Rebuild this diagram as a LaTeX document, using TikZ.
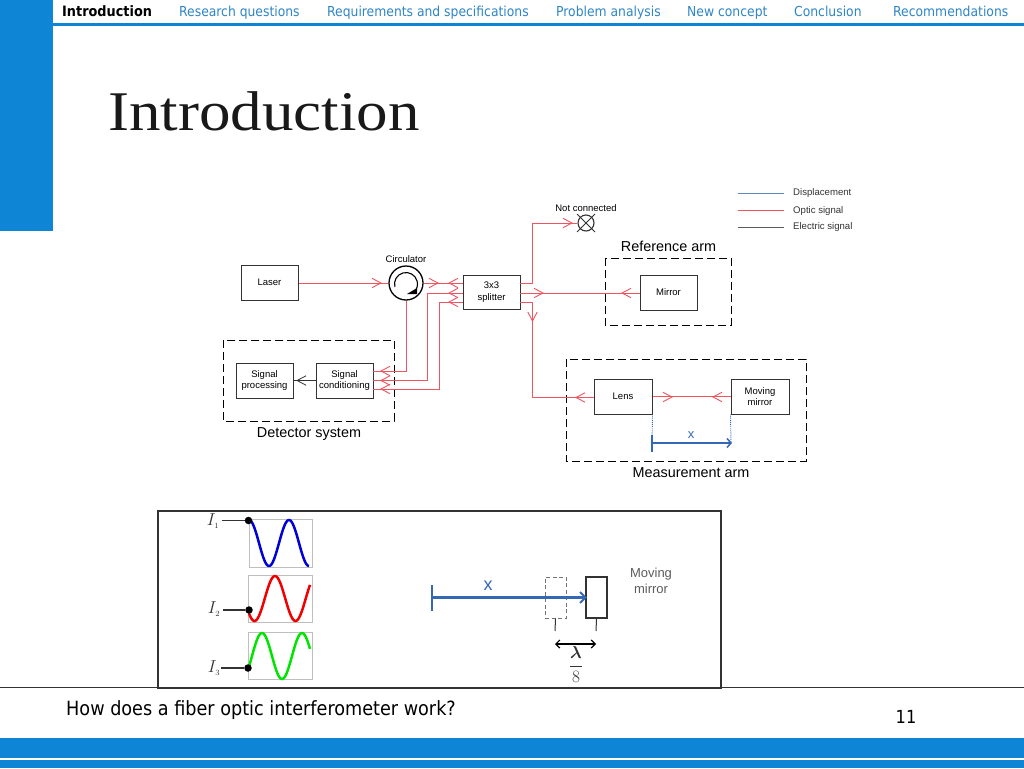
\documentclass[tikz,border=0pt]{standalone}
\usepackage{fontspec}
\usepackage{amsmath}
\setmainfont{Liberation Sans}
\newfontfamily\navfont{DejaVu Sans Condensed}
\newfontfamily\titlefont[FakeStretch=1.125]{Liberation Serif}
\usetikzlibrary{arrows.meta,calc}
\definecolor{band}{HTML}{0F85D6}
\definecolor{navtxt}{HTML}{2F86C6}
\definecolor{optic}{HTML}{EE5560}
\definecolor{dark}{HTML}{333333}
\definecolor{disp}{HTML}{3468B4}
\tikzset{
  nav/.style={anchor=base west,inner sep=0pt,font=\navfont\fontsize{13.75}{16}\selectfont,text=navtxt},
  blockbox/.style={draw=dark,line width=1pt,fill=white,inner sep=0pt,align=center,font=\fontsize{9.5}{11.5}\selectfont},
  optline/.style={draw=optic,line width=1pt},
  barbopt/.style={draw=optic,line width=.9pt},
  groupbox/.style={draw=black,line width=1pt,dash pattern=on 8pt off 4pt},
  captxt/.style={inner sep=0pt,font=\fontsize{14.4}{16}\selectfont},
  small/.style={inner sep=0pt,font=\fontsize{9.5}{11}\selectfont},
  legendtxt/.style={anchor=west,inner sep=0pt,font=\fontsize{9.6}{11}\selectfont,text=dark},
  dispmain/.style={draw=disp,line width=2.2pt},
  frameg/.style={draw=black!25,line width=.8pt},
  wave/.style={line width=2.5pt},
  tickline/.style={draw=dark,line width=1.3pt},
  stub/.style={draw=dark,line width=1pt},
  dotn/.style={circle,fill=black,inner sep=0pt,minimum size=7.5pt},
  ilab/.style={inner sep=0pt,font=\fontsize{17}{18}\selectfont,text=dark},
}
\newcommand{\barb}[4][barbopt]{\draw[#1,shift={(#2,#3)},rotate=#4] (-9,-4.7)--(0,0)--(-9,4.7);}
\begin{document}
\begin{tikzpicture}[x=1pt,y=-1pt]
\useasboundingbox (0,0) rectangle (1024,768);
\fill[white] (0,0) rectangle (1024,768);
% chrome
\fill[band] (0,0) rectangle (52.5,230.5);
\fill[band] (52.5,23) rectangle (1024,26);
\fill[band] (0,737.5) rectangle (1024,758);
\fill[band] (0,760) rectangle (1024,768);
\node[nav,text=black,font=\navfont\bfseries\fontsize{14.3}{16}\selectfont] (n1) at (62,16.5) {Introduction};
\node[nav] (n2) at (179,16.5) {Research questions};
\node[nav] (n3) at (327,16.5) {Requirements and specifications};
\node[nav] (n4) at (556,16.5) {Problem analysis};
\node[nav] (n5) at (687,16.5) {New concept};
\node[nav] (n6) at (794,16.5) {Conclusion};
\node[nav] (n7) at (893,16.5) {Recommendations};
\node[anchor=base west,inner sep=0pt,text=black!90,font=\titlefont\fontsize{56}{60}\selectfont] (title) at (108,130) {Introduction};
% footer
\draw[dark,line width=1.4pt] (0,687.5) -- (158,687.5) (721,687.5) -- (1024,687.5);
\node[anchor=base west,inner sep=0pt,font=\navfont\fontsize{19.6}{22}\selectfont] (foot) at (66,715.5) {How does a fiber optic interferometer work?};
\node[anchor=base,inner sep=0pt,font=\navfont\fontsize{18}{20}\selectfont] (page) at (906,723) {11};
% groups
\draw[groupbox] (605,258) rectangle (731,325);
\draw[groupbox] (566,359) rectangle (806,461);
\draw[groupbox] (223,340) rectangle (394,421);
\node[captxt] (refcap) at (668.5,246) {Reference arm};
\node[captxt] (meacap) at (691,472.5) {Measurement arm};
\node[captxt] (detcap) at (309,434.5) {Detector system};
% ports
\coordinate (spA) at (463,283);
\coordinate (spB) at (463,293);
\coordinate (spC) at (463,302);
\coordinate (scA) at (373,371);
\coordinate (scB) at (373,380.5);
\coordinate (scC) at (373,389);
\coordinate (soA) at (520,283);
\coordinate (soB) at (520,293);
\coordinate (soC) at (520,302);
\coordinate (lensL) at (594,397.5);
% devices
\node[small] (nc) at (586,208) {Not connected};
\node[circle,draw=dark,line width=1.1pt,minimum size=16pt,inner sep=0pt] (xx) at (586,223) {};
\draw[dark,line width=.9pt] (577,214)--(595,232) (577,232)--(595,214);
\node[small] (circlab) at (406,259.5) {Circulator};
\node[circle,draw=black,line width=1.3pt,minimum size=34pt,inner sep=0pt,fill=white] (circ) at (406,283) {};
\draw[black,line width=1.1pt] (394.9,287) arc (165:405:11.5);
\fill[black] (417,288) -- (417,294) -- (407,294) -- cycle;
\node[blockbox,minimum width=57pt,minimum height=35pt] (laser) at (269.5,282.5) {Laser};
\node[blockbox,minimum width=57pt,minimum height=34pt] (split) at (491.5,292) {3x3\\splitter};
\node[blockbox,minimum width=57pt,minimum height=35pt] (mirror) at (668.5,292.5) {Mirror};
\node[blockbox,minimum width=57pt,minimum height=35pt] (cond) at (344.5,380.5) {Signal\\conditioning};
\node[blockbox,minimum width=57pt,minimum height=35pt] (proc) at (264.5,380.5) {Signal\\processing};
\node[blockbox,minimum width=58pt,minimum height=35pt] (lens) at (623,396.5) {Lens};
\node[blockbox,minimum width=58pt,minimum height=35pt] (mm) at (760,396.5) {Moving\\mirror};
% optical
\draw[optline] (laser.east |- circ) -- (circ.west);
\draw[optline] (circ.east) -- (spA);
\draw[optline] (spB) -| (427,380.5) -- (scB);
\draw[optline] (spC) -| (439,389) -- (scC);
\draw[optline] (circ.south) |- (scA);
\draw[optline] (soA) -| (532.5,223) -- (xx.west);
\draw[optline] (soB) -- (mirror.west |- soB);
\draw[optline] (soC) -| (532.5,397.5) -- (lensL);
\draw[optline] (lens.east |- mm) -- (mm.west);
\barb{381}{283}{0}
\barb{438}{283}{0}
\barb{449}{283}{180}
\barb{449}{293}{180}
\barb{449}{302}{180}
\barb{381}{371}{180}
\barb{381}{380.5}{180}
\barb{381}{389}{180}
\barb{572}{223}{0}
\barb{543}{293}{0}
\barb{622}{293}{180}
\barb{532.5}{321}{-90}
\barb{576}{397.5}{180}
\barb{672}{397}{0}
\barb{713}{397}{180}
% electric
\draw[dark,line width=.9pt] (cond.west) -- (proc.east);
\barb[{draw=dark,line width=.8pt}]{297}{380.5}{180}
% displacement
\coordinate (lensd) at (652,443);
\coordinate (mmd) at (731,443);
\draw[disp,line width=.9pt,densely dotted] (lens.south east) -- (lensd);
\draw[disp,line width=.9pt,densely dotted] (mm.south west) -- (mmd);
\draw[dispmain] (lensd) -- (mmd);
\draw[dispmain] (652,435) -- (652,452);
\draw[disp,line width=1.5pt] (727,438.5) -- (731,443) -- (727,447.5);
\node[inner sep=0pt,font=\fontsize{13}{14}\selectfont,text=disp] (xlab) at (691,435.5) {x};
% legend
\coordinate (l1a) at (738,193); \coordinate (l1b) at (784,193);
\coordinate (l2a) at (738,210); \coordinate (l2b) at (784,210);
\coordinate (l3a) at (738,227); \coordinate (l3b) at (784,227);
\draw[disp!80,line width=.9pt] (l1a) -- (l1b);
\draw[optic,line width=.9pt] (l2a) -- (l2b);
\draw[dark!80,line width=.9pt] (l3a) -- (l3b);
\node[legendtxt] (lt1) at (793,193.5) {Displacement};
\node[legendtxt] (lt2) at (793,211) {Optic signal};
\node[legendtxt] (lt3) at (793,227.5) {Electric signal};
% lower panel
\draw[dark,line width=1.6pt] (158,511) rectangle (721,688);
\draw[frameg] (249,519.5) rectangle (312,567);
\draw[frameg] (248.5,575) rectangle (312,622);
\draw[frameg] (248,632) rectangle (312,679);
\draw[wave,color=blue!85!black] plot[domain=249:309,samples=80,smooth] (\x,{543-23*cos(9*(\x-249))});
\draw[wave,color=red!95!black] plot[domain=249:310,samples=80,smooth] (\x,{598.5-22.5*cos(8.78*(\x-275))});
\draw[wave,color=green!90!black] plot[domain=248.5:310,samples=80,smooth] (\x,{656-23*cos(9*(\x-262))});
\node[dotn] (d1) at (248.5,520.5) {};
\node[dotn] (d2) at (249,610) {};
\node[dotn] (d3) at (248,668) {};
\node[ilab] (i1) at (213,521) {$I_{\scriptscriptstyle 1}$};
\node[ilab] (i2) at (214,609) {$I_{\scriptscriptstyle 2}$};
\node[ilab] (i3) at (214,668) {$I_{\scriptscriptstyle 3}$};
\draw[tickline] (222,520.5) -- (d1.west);
\draw[tickline] (223,610) -- (d2.west);
\draw[tickline] (221,668) -- (d3.west);
\node[draw=black!55,line width=1pt,dash pattern=on 4pt off 2.5pt,minimum width=21pt,minimum height=41pt,inner sep=0pt] (ghost) at (555.5,597.5) {};
\node[draw=dark,line width=1.3pt,minimum width=21pt,minimum height=41pt,inner sep=0pt] (mbox) at (596.5,597.5) {};
\coordinate (xs) at (432,597.5);
\draw[dispmain] (xs) -- (mbox.west);
\draw[dispmain] (432,585) -- (432,611);
\draw[disp,line width=2pt] (580,592) -- (585.5,597.5) -- (580,603);
\node[inner sep=0pt,font=\fontsize{18}{20}\selectfont,text=disp] (xbig) at (488,586) {x};
\coordinate (ga) at (555,631); \coordinate (ma) at (596,631);
\coordinate (gb) at (555,644); \coordinate (mb) at (596,644);
\draw[stub] (ghost.south) -- (ga);
\draw[stub] (mbox.south) -- (ma);
\draw[black,line width=1.2pt,{Straight Barb[length=4pt,width=8pt]}-{Straight Barb[length=4pt,width=8pt]}] (gb) -- (mb);
\node[inner sep=0pt,font=\fontsize{16}{18}\selectfont,text=dark] (lam) at (576,664.5) {$\dfrac{\boldsymbol{\lambda}}{8}$};
\node[inner sep=0pt,align=center,font=\fontsize{13}{16}\selectfont,text=dark!80] (mlab) at (651,581) {Moving\\mirror};
\end{tikzpicture}
\end{document}
